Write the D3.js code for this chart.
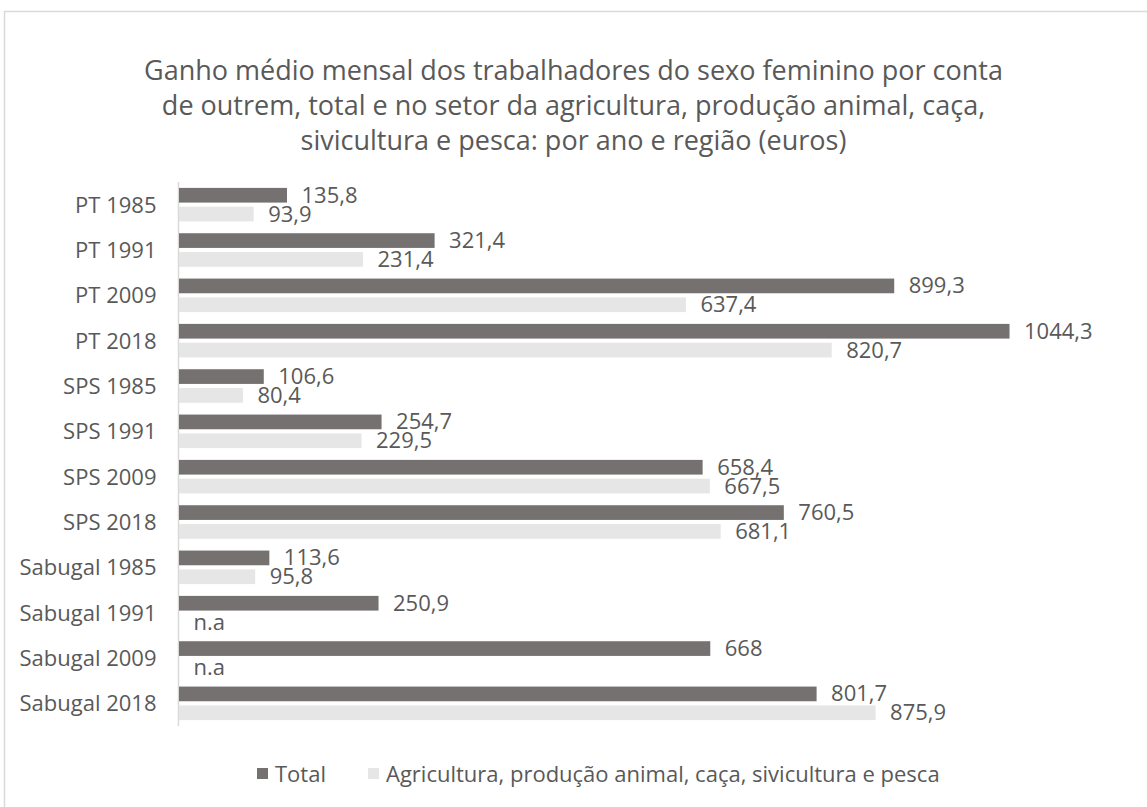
<!DOCTYPE html>
<html>
<head>
<meta charset="utf-8">
<script src="https://cdn.jsdelivr.net/npm/d3@7"></script>
<style>
  body { margin: 0; background: #fff; }
  text { font-family: "Open Sans", "Noto Sans", sans-serif; fill: #595959; }
</style>
</head>
<body>
<div id="chart"></div>
<script>
// data
var categories = ["PT 1985", "PT 1991", "PT 2009", "PT 2018",
  "SPS 1985", "SPS 1991", "SPS 2009", "SPS 2018",
  "Sabugal 1985", "Sabugal 1991", "Sabugal 2009", "Sabugal 2018"];
var totalValues = [135.8, 321.4, 899.3, 1044.3, 106.6, 254.7, 658.4, 760.5, 113.6, 250.9, 668, 801.7];
// null = n.a
var agriValues = [93.9, 231.4, 637.4, 820.7, 80.4, 229.5, 667.5, 681.1, 95.8, null, null, 875.9];
var seriesNames = ["Total", "Agricultura, produção animal, caça, sivicultura e pesca"];
var titleLines = [
  "Ganho médio mensal dos trabalhadores do sexo feminino por conta",
  "de outrem, total e no setor da agricultura, produção animal, caça,",
  "sivicultura e pesca: por ano e região (euros)"
];

// Step 1: chart setup
var svgWidth = 1147;
var svgHeight = 807;
var colors = { total: "#767171", agri: "#e7e6e6" };

var svg = d3.select("#chart")
  .append("svg")
  .attr("width", svgWidth)
  .attr("height", svgHeight);

// outer frame (cut off at right and bottom like the source)
svg.append("rect")
  .attr("x", 4.5)
  .attr("y", 11.5)
  .attr("width", 1300)
  .attr("height", 1000)
  .attr("fill", "#fff")
  .attr("stroke", "#d9d9d9")
  .attr("stroke-width", 1.5);

// Step 2: title
svg.append("g")
  .selectAll("text")
  .data(titleLines)
  .enter()
  .append("text")
  .attr("x", 573.5)
  .attr("y", (d, i) => 80 + i * 35)
  .attr("text-anchor", "middle")
  .style("font-size", "27px")
  .text(d => d);

// Step 3: scales
var xScale = d3.scaleLinear()
  .domain([0, 1200])
  .range([178.5, 178.5 + 1200 * 0.7953]);

var yScale = d3.scaleBand()
  .domain(categories)
  .range([182, 726])
  .paddingInner(0.26)
  .paddingOuter(0.13);

var subScale = d3.scaleBand()
  .domain(["total", "agri"])
  .range([0, yScale.bandwidth()])
  .paddingInner(0.22);

var rows = categories.map((c, i) => ({ cat: c, total: totalValues[i], agri: agriValues[i] }));
var fmt = v => String(v).replace(".", ",");

// Step 4: category axis
var leftAxis = d3.axisLeft(yScale).tickSize(0).tickPadding(22);
var axisG = svg.append("g")
  .attr("transform", `translate(${xScale(0)}, 0)`)
  .call(leftAxis);
axisG.select(".domain")
  .attr("d", `M0,182V726`)
  .attr("stroke", "#d9d9d9")
  .attr("stroke-width", 1.5);
axisG.selectAll(".tick text")
  .attr("fill", "#595959")
  .attr("dy", "0.36em")
  .style("font-family", "'Open Sans', sans-serif")
  .style("font-size", "22px");

// Step 5: bars and labels
["total", "agri"].forEach(function(key) {
  var g = svg.append("g");
  g.selectAll("rect")
    .data(rows.filter(d => d[key] !== null))
    .enter()
    .append("rect")
    .attr("x", xScale(0) + 0.5)
    .attr("y", d => yScale(d.cat) + subScale(key))
    .attr("width", d => xScale(d[key]) - xScale(0))
    .attr("height", subScale.bandwidth())
    .attr("fill", colors[key]);

  g.selectAll("text")
    .data(rows)
    .enter()
    .append("text")
    .attr("x", d => xScale(d[key] === null ? 0 : d[key]) + 15)
    .attr("y", d => yScale(d.cat) + subScale(key) + subScale.bandwidth() / 2 + 7.5)
    .style("font-size", "22px")
    .text(d => d[key] === null ? "n.a" : fmt(d[key]));
});

// Step 6: legend
var legend = svg.append("g");
var legendItems = [
  { name: seriesNames[0], color: colors.total, x: 257 },
  { name: seriesNames[1], color: colors.agri, x: 368 }
];
legendItems.forEach(function(item) {
  legend.append("rect")
    .attr("x", item.x)
    .attr("y", 768)
    .attr("width", 11)
    .attr("height", 11)
    .attr("fill", item.color);
  legend.append("text")
    .attr("x", item.x + 18)
    .attr("y", 781.5)
    .style("font-size", "22px")
    .text(item.name);
});
</script>
</body>
</html>
